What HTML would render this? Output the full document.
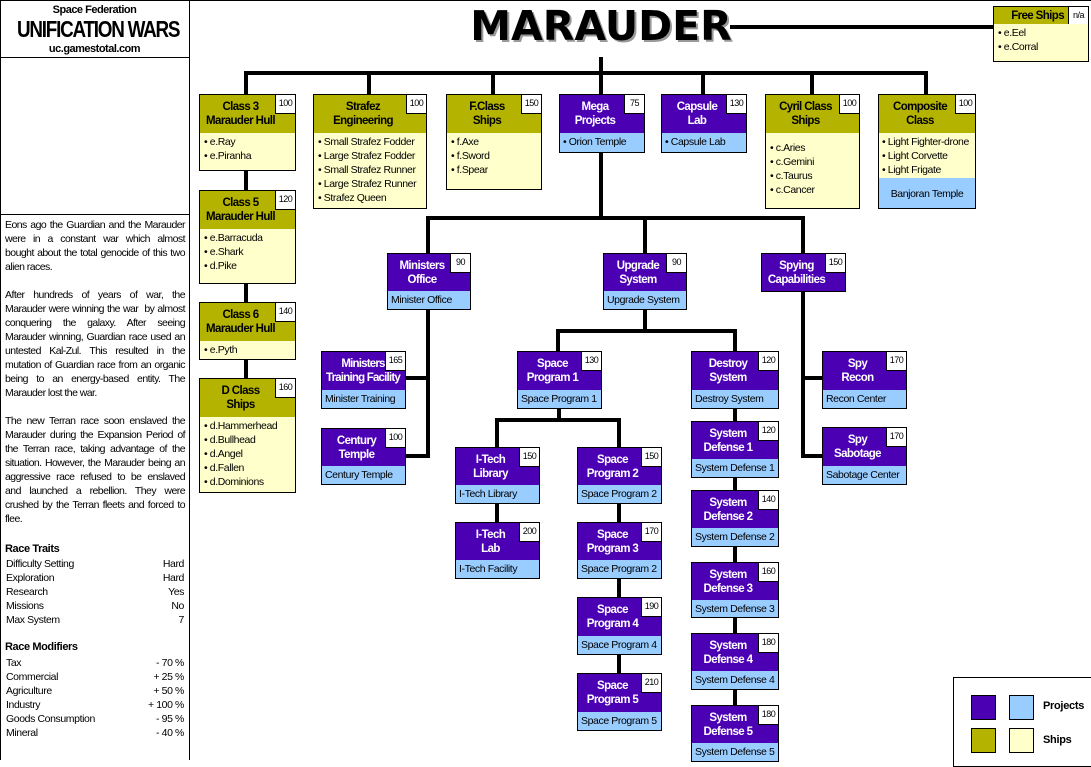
<!DOCTYPE html>
<html><head><meta charset="utf-8"><style>
body{margin:0;width:1091px;height:760px;position:relative;background:#fff;font-family:"Liberation Sans",Arial,sans-serif;overflow:hidden;color:#000}
div{position:absolute;box-sizing:border-box}
.l{background:#000}
.h{border:1px solid #000;font-weight:bold;font-size:11.5px;line-height:14px;text-align:center;display:flex;align-items:center;justify-content:center;padding-right:14px;letter-spacing:-0.6px;white-space:nowrap}
.p{background:#4b00b4;color:#fff}
.o{background:#b4b400;color:#000}
.h i{position:absolute;right:0;top:0;width:19px;height:18px;background:#fff;border-left:1px solid #000;border-bottom:1px solid #000;color:#000;font-style:normal;font-weight:normal;font-size:9px;line-height:16px;text-align:center;letter-spacing:-0.5px}
.b{border:1px solid #000;border-top:none;font-size:10.5px;line-height:14px;padding:2px 4px;letter-spacing:-0.4px;white-space:nowrap}
.lb{background:#99ccff;padding:2px 3px}
.cr{background:#ffffcc}
.lt{font-size:10.5px;line-height:14px;letter-spacing:-0.55px}
.row{width:178px;left:6px;font-size:10.5px;line-height:14px;display:flex;justify-content:space-between;position:absolute;letter-spacing:-0.4px}
</style></head><body>
<div class="l" style="left:0;top:0;width:1091px;height:1px"></div>
<div class="l" style="left:0;top:0;width:1px;height:760px"></div>
<div class="l" style="left:189px;top:0;width:1px;height:760px"></div>
<div class="l" style="left:0;top:57px;width:190px;height:1px"></div>
<div class="l" style="left:0;top:214px;width:190px;height:1px"></div>
<div style="left:0;top:4px;width:189px;text-align:center;font-size:11px;font-weight:bold;letter-spacing:-0.5px">Space Federation</div>
<div style="left:0;top:15px;width:189px;text-align:center;font-size:23px;font-weight:bold;letter-spacing:-1.5px;white-space:nowrap;transform:scaleX(0.82);line-height:28px">UNIFICATION WARS</div>
<div style="left:0;top:43px;width:189px;text-align:center;font-size:11px;font-weight:bold;letter-spacing:-0.5px">uc.gamestotal.com</div>
<div class="lt" style="left:5px;top:218px;width:180px;text-align:justify">Eons ago the Guardian and the Marauder were in a constant war which almost bought about the total genocide of this two alien races.<br><br>After hundreds of years of war, the Marauder were winning the war &nbsp;by almost conquering the galaxy. After seeing Marauder winning, Guardian race used an untested Kal-Zul. This resulted in the mutation of Guardian race from an organic being to an energy-based entity. The Marauder lost the war.<br><br>The new Terran race soon enslaved the Marauder during the Expansion Period of the Terran race, taking advantage of the situation. However, the Marauder being an aggressive race refused to be enslaved and launched a rebellion. They were crushed by the Terran fleets and forced to flee.</div>
<div style="left:5px;top:543px;font-size:11px;font-weight:bold;letter-spacing:-0.4px">Race Traits</div>
<div class="row" style="top:557px"><span>Difficulty Setting</span><span>Hard</span></div>
<div class="row" style="top:571px"><span>Exploration</span><span>Hard</span></div>
<div class="row" style="top:585px"><span>Research</span><span>Yes</span></div>
<div class="row" style="top:599px"><span>Missions</span><span>No</span></div>
<div class="row" style="top:613px"><span>Max System</span><span>7</span></div>
<div style="left:5px;top:641px;font-size:11px;font-weight:bold;letter-spacing:-0.4px">Race Modifiers</div>
<div class="row" style="top:656px"><span>Tax</span><span>- 70 %</span></div>
<div class="row" style="top:670px"><span>Commercial</span><span>+ 25 %</span></div>
<div class="row" style="top:684px"><span>Agriculture</span><span>+ 50 %</span></div>
<div class="row" style="top:698px"><span>Industry</span><span>+ 100 %</span></div>
<div class="row" style="top:712px"><span>Goods Consumption</span><span>- 95 %</span></div>
<div class="row" style="top:726px"><span>Mineral</span><span>- 40 %</span></div>

<div style="left:470px;top:2px;width:262px;text-align:center;font-size:41px;font-weight:900;text-shadow:2px 2px 0 #999;font-family:'DejaVu Sans','Liberation Sans',sans-serif;white-space:nowrap">MARAUDER</div>

<div class="l" style="left:730px;top:25px;width:263px;height:4px"></div>
<div class="l" style="left:599px;top:57px;width:4px;height:18px"></div>
<div class="l" style="left:244px;top:71px;width:684px;height:4px"></div>
<div class="l" style="left:244px;top:71px;width:4px;height:23px"></div>
<div class="l" style="left:367px;top:71px;width:4px;height:23px"></div>
<div class="l" style="left:491px;top:71px;width:4px;height:23px"></div>
<div class="l" style="left:599px;top:71px;width:4px;height:23px"></div>
<div class="l" style="left:701px;top:71px;width:4px;height:23px"></div>
<div class="l" style="left:810px;top:71px;width:4px;height:23px"></div>
<div class="l" style="left:924px;top:71px;width:4px;height:23px"></div>
<div class="l" style="left:244px;top:170px;width:4px;height:208px"></div>
<div class="l" style="left:599px;top:152px;width:4px;height:68px"></div>
<div class="l" style="left:426px;top:216px;width:379px;height:4px"></div>
<div class="l" style="left:426px;top:216px;width:4px;height:37px"></div>
<div class="l" style="left:643px;top:216px;width:4px;height:37px"></div>
<div class="l" style="left:801px;top:216px;width:4px;height:37px"></div>
<div class="l" style="left:426px;top:309px;width:4px;height:149px"></div>
<div class="l" style="left:405px;top:376px;width:23px;height:4px"></div>
<div class="l" style="left:405px;top:454px;width:23px;height:4px"></div>
<div class="l" style="left:643px;top:309px;width:4px;height:24px"></div>
<div class="l" style="left:556px;top:329px;width:181px;height:4px"></div>
<div class="l" style="left:556px;top:329px;width:4px;height:22px"></div>
<div class="l" style="left:733px;top:329px;width:4px;height:22px"></div>
<div class="l" style="left:801px;top:291px;width:4px;height:167px"></div>
<div class="l" style="left:803px;top:376px;width:19px;height:4px"></div>
<div class="l" style="left:803px;top:454px;width:19px;height:4px"></div>
<div class="l" style="left:557px;top:408px;width:4px;height:14px"></div>
<div class="l" style="left:495px;top:418px;width:126px;height:4px"></div>
<div class="l" style="left:495px;top:418px;width:4px;height:29px"></div>
<div class="l" style="left:617px;top:418px;width:4px;height:29px"></div>
<div class="l" style="left:617px;top:503px;width:4px;height:170px"></div>
<div class="l" style="left:495px;top:503px;width:4px;height:19px"></div>
<div class="l" style="left:733px;top:408px;width:4px;height:297px"></div>

<div class="h o" style="left:199px;top:94px;width:97px;height:40px">Class 3<br>Marauder Hull<i>100</i></div>
<div class="b cr" style="left:199px;top:133px;width:97px;height:38px">• e.Ray<br>• e.Piranha</div>
<div class="h o" style="left:199px;top:190px;width:97px;height:40px">Class 5<br>Marauder Hull<i>120</i></div>
<div class="b cr" style="left:199px;top:229px;width:97px;height:55px">• e.Barracuda<br>• e.Shark<br>• d.Pike</div>
<div class="h o" style="left:199px;top:302px;width:97px;height:40px">Class 6<br>Marauder Hull<i>140</i></div>
<div class="b cr" style="left:199px;top:341px;width:97px;height:19px">• e.Pyth</div>
<div class="h o" style="left:199px;top:378px;width:97px;height:40px">D Class<br>Ships<i>160</i></div>
<div class="b cr" style="left:199px;top:417px;width:97px;height:76px">• d.Hammerhead<br>• d.Bullhead<br>• d.Angel<br>• d.Fallen<br>• d.Dominions</div>
<div class="h o" style="left:313px;top:94px;width:114px;height:40px">Strafez<br>Engineering<i>100</i></div>
<div class="b cr" style="left:313px;top:133px;width:114px;height:76px">• Small Strafez Fodder<br>• Large Strafez Fodder<br>• Small Strafez Runner<br>• Large Strafez Runner<br>• Strafez Queen</div>
<div class="h o" style="left:446px;top:94px;width:96px;height:40px">F.Class<br>Ships<i>150</i></div>
<div class="b cr" style="left:446px;top:133px;width:96px;height:57px">• f.Axe<br>• f.Sword<br>• f.Spear</div>
<div class="h p" style="left:559px;top:94px;width:86px;height:40px">Mega<br>Projects<i>75</i></div>
<div class="b lb" style="left:559px;top:133px;width:86px;height:20px">• Orion Temple</div>
<div class="h p" style="left:661px;top:94px;width:86px;height:40px">Capsule<br>Lab<i>130</i></div>
<div class="b lb" style="left:661px;top:133px;width:86px;height:20px">• Capsule Lab</div>
<div class="h o" style="left:765px;top:94px;width:95px;height:40px">Cyril Class<br>Ships<i>100</i></div>
<div class="b cr" style="left:765px;top:133px;width:95px;height:76px;padding-top:8px">• c.Aries<br>• c.Gemini<br>• c.Taurus<br>• c.Cancer</div>
<div class="h o" style="left:878px;top:94px;width:98px;height:40px">Composite<br>Class<i>100</i></div>
<div class="b cr" style="left:878px;top:133px;width:98px;height:46px;padding:2px 3px">• Light Fighter-drone<br>• Light Corvette<br>• Light Frigate</div>
<div class="b lb" style="left:878px;top:178px;width:98px;height:31px;text-align:center;line-height:28px">Banjoran Temple</div>
<div class="h o" style="left:993px;top:6px;width:96px;height:19px;justify-content:flex-end;padding-right:24px">Free Ships<i style="height:18px">n/a</i></div>
<div class="b cr" style="left:993px;top:24px;width:96px;height:38px">• e.Eel<br>• e.Corral</div>

<div class="h p" style="left:387px;top:253px;width:84px;height:39px">Ministers<br>Office<i>90</i></div>
<div class="b lb" style="left:387px;top:291px;width:84px;height:19px">Minister Office</div>
<div class="h p" style="left:603px;top:253px;width:84px;height:39px">Upgrade<br>System<i>90</i></div>
<div class="b lb" style="left:603px;top:291px;width:84px;height:19px">Upgrade System</div>
<div class="h p" style="left:761px;top:253px;width:85px;height:39px">Spying<br>Capabilities<i>150</i></div>

<div class="h p" style="left:321px;top:351px;width:85px;height:40px;padding-right:0;justify-content:flex-start;padding-left:4px;letter-spacing:-0.8px">Ministers<br>Training Facility<i>165</i></div>
<div class="b lb" style="left:321px;top:390px;width:85px;height:19px">Minister Training</div>
<div class="h p" style="left:321px;top:428px;width:85px;height:39px">Century<br>Temple<i>100</i></div>
<div class="b lb" style="left:321px;top:466px;width:85px;height:19px">Century Temple</div>
<div class="h p" style="left:517px;top:351px;width:85px;height:40px">Space<br>Program 1<i>130</i></div>
<div class="b lb" style="left:517px;top:390px;width:85px;height:19px">Space Program 1</div>
<div class="h p" style="left:691px;top:351px;width:88px;height:40px">Destroy<br>System<i>120</i></div>
<div class="b lb" style="left:691px;top:390px;width:88px;height:19px">Destroy System</div>
<div class="h p" style="left:822px;top:351px;width:85px;height:40px">Spy<br>Recon<i>170</i></div>
<div class="b lb" style="left:822px;top:390px;width:85px;height:19px">Recon Center</div>
<div class="h p" style="left:822px;top:427px;width:85px;height:40px">Spy<br>Sabotage<i>170</i></div>
<div class="b lb" style="left:822px;top:466px;width:85px;height:19px">Sabotage Center</div>

<div class="h p" style="left:455px;top:447px;width:85px;height:39px">I-Tech<br>Library<i>150</i></div>
<div class="b lb" style="left:455px;top:485px;width:85px;height:19px">I-Tech Library</div>
<div class="h p" style="left:455px;top:522px;width:85px;height:39px">I-Tech<br>Lab<i>200</i></div>
<div class="b lb" style="left:455px;top:560px;width:85px;height:19px">I-Tech Facility</div>
<div class="h p" style="left:577px;top:447px;width:85px;height:39px">Space<br>Program 2<i>150</i></div>
<div class="b lb" style="left:577px;top:485px;width:85px;height:19px">Space Program 2</div>
<div class="h p" style="left:577px;top:522px;width:85px;height:39px">Space<br>Program 3<i>170</i></div>
<div class="b lb" style="left:577px;top:560px;width:85px;height:19px">Space Program 2</div>
<div class="h p" style="left:577px;top:597px;width:85px;height:40px">Space<br>Program 4<i>190</i></div>
<div class="b lb" style="left:577px;top:636px;width:85px;height:19px">Space Program 4</div>
<div class="h p" style="left:577px;top:673px;width:85px;height:40px">Space<br>Program 5<i>210</i></div>
<div class="b lb" style="left:577px;top:712px;width:85px;height:19px">Space Program 5</div>

<div class="h p" style="left:691px;top:421px;width:88px;height:39px">System<br>Defense 1<i>120</i></div>
<div class="b lb" style="left:691px;top:459px;width:88px;height:19px">System Defense 1</div>
<div class="h p" style="left:691px;top:490px;width:88px;height:39px">System<br>Defense 2<i>140</i></div>
<div class="b lb" style="left:691px;top:528px;width:88px;height:19px">System Defense 2</div>
<div class="h p" style="left:691px;top:562px;width:88px;height:39px">System<br>Defense 3<i>160</i></div>
<div class="b lb" style="left:691px;top:600px;width:88px;height:18px">System Defense 3</div>
<div class="h p" style="left:691px;top:633px;width:88px;height:39px">System<br>Defense 4<i>180</i></div>
<div class="b lb" style="left:691px;top:671px;width:88px;height:19px">System Defense 4</div>
<div class="h p" style="left:691px;top:705px;width:88px;height:39px">System<br>Defense 5<i>180</i></div>
<div class="b lb" style="left:691px;top:743px;width:88px;height:19px">System Defense 5</div>

<div style="left:953px;top:677px;width:140px;height:90px;border:1px solid #000"></div>
<div style="left:971px;top:695px;width:25px;height:25px;background:#4b00b4;border:1px solid #000"></div>
<div style="left:1009px;top:695px;width:25px;height:25px;background:#99ccff;border:1px solid #000"></div>
<div style="left:971px;top:728px;width:25px;height:25px;background:#b4b400;border:1px solid #000"></div>
<div style="left:1009px;top:728px;width:25px;height:25px;background:#ffffcc;border:1px solid #000"></div>
<div style="left:1043px;top:700px;font-size:11px;font-weight:bold;letter-spacing:-0.3px">Projects</div>
<div style="left:1043px;top:734px;font-size:11px;font-weight:bold;letter-spacing:-0.3px">Ships</div>
</body></html>
